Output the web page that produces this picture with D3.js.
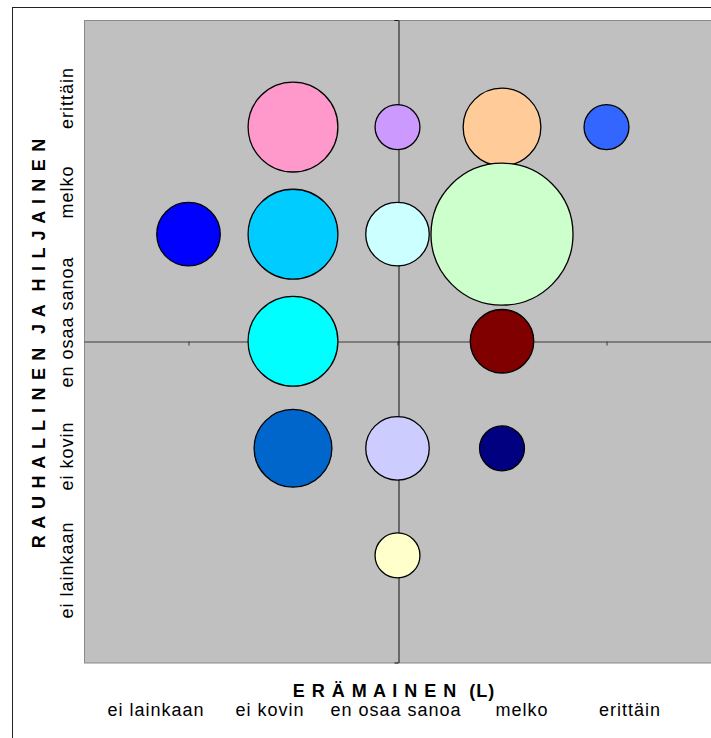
<!DOCTYPE html>
<html>
<head>
<meta charset="utf-8">
<script src="https://cdn.jsdelivr.net/npm/d3@7"></script>
<style>
  body { margin: 0; background: #fff; }
  text { font-family: Arial, "Liberation Sans", sans-serif; fill: #000; }
</style>
</head>
<body>
<svg width="711" height="738"></svg>
<script>
// answer levels (same scale on both axes)
var levels = ["ei lainkaan", "ei kovin", "en osaa sanoa", "melko", "erittäin"];

// bubbles: position on the 1..5 scales, size = count
var bubbleX = [1, 2, 2, 2, 2, 3, 3, 3, 3, 4, 4, 4, 4, 5];
var bubbleY = [4, 5, 4, 3, 2, 5, 4, 2, 1, 5, 4, 3, 2, 5];
var bubbleSize = [2, 4, 4, 4, 3, 1, 2, 2, 1, 3, 10, 2, 1, 1];
var bubbleColor = ["#0000FF", "#FF99CC", "#00CCFF", "#00FFFF", "#0066CC",
                   "#CC99FF", "#CCFFFF", "#CCCCFF", "#FFFFCC",
                   "#FFCC99", "#CCFFCC", "#800000", "#000080", "#3366FF"];

var xTitle = "E R Ä M A I N E N  (L)";
var yTitle = "R A U H A L L I N E N  J A  H I L J A I N E N";

var svg = d3.select("svg"),
    width = +svg.attr("width"),
    height = +svg.attr("height");

var plot = {left: 84, top: 20, right: 711, bottom: 662.5};

var x = d3.scaleLinear().domain([0, 6]).range([plot.left, plot.right]);
var y = d3.scaleLinear().domain([0, 6]).range([plot.bottom, plot.top]);
var r = d3.scaleSqrt().domain([0, d3.max(bubbleSize)]).range([0, 71]);

// chart frame (runs off the right / bottom edge like the original)
svg.append("rect")
    .attr("x", 12.5).attr("y", 7.5)
    .attr("width", 800).attr("height", 800)
    .attr("fill", "#fff")
    .attr("stroke", "#222");

// plot area
svg.append("rect")
    .attr("x", plot.left + 0.5).attr("y", plot.top + 0.5)
    .attr("width", 700).attr("height", plot.bottom - plot.top)
    .attr("fill", "#C0C0C0")
    .attr("stroke", "#8a8a8a");

// axes cross in the middle of the scales
var xAxis = svg.append("g")
    .attr("transform", "translate(0," + (Math.round(y(3)) + 0.5) + ")")
    .call(d3.axisBottom(x).tickValues([1, 3, 5]).tickSize(4).tickSizeOuter(0).tickFormat(""));
xAxis.selectAll("path, line").attr("stroke", "#3a3a3a");

var yAxis = svg.append("g")
    .attr("transform", "translate(" + (Math.round(x(3)) + 0.5) + ",0)")
    .call(d3.axisLeft(y).tickValues([0, 2, 4, 6]).tickSize(4).tickSizeOuter(0).tickFormat(""));
yAxis.selectAll("path, line").attr("stroke", "#111");

// bubbles
var bubbles = bubbleSize.map(function(s, i) {
    return {x: bubbleX[i], y: bubbleY[i], size: s, color: bubbleColor[i]};
});

svg.append("g")
    .selectAll("circle")
    .data(bubbles)
    .enter().append("circle")
    .attr("cx", function(d) { return x(d.x); })
    .attr("cy", function(d) { return y(d.y); })
    .attr("r", function(d) { return r(d.size); })
    .attr("fill", function(d) { return d.color; })
    .attr("stroke", "#000")
    .attr("stroke-width", 1.3);

// x axis title and level labels
svg.append("text")
    .attr("x", 394).attr("y", 697)
    .attr("text-anchor", "middle")
    .attr("font-size", 18).attr("font-weight", "bold")
    .attr("letter-spacing", "1px")
    .attr("xml:space", "preserve")
    .text(xTitle);

var xLabelPos = [156, 270, 396, 522, 630];
svg.append("g")
    .selectAll("text")
    .data(levels)
    .enter().append("text")
    .attr("x", function(d, i) { return xLabelPos[i]; })
    .attr("y", 716)
    .attr("text-anchor", "middle")
    .attr("font-size", 18)
    .attr("letter-spacing", "1px")
    .text(function(d) { return d; });

// y axis title and level labels (rotated)
svg.append("text")
    .attr("transform", "translate(45,343) rotate(-90)")
    .attr("text-anchor", "middle")
    .attr("font-size", 18).attr("font-weight", "bold")
    .attr("letter-spacing", "1.2px")
    .attr("xml:space", "preserve")
    .text(yTitle);

var yLabelPos = [570, 456, 322, 192, 98];
svg.append("g")
    .selectAll("text")
    .data(levels)
    .enter().append("text")
    .attr("transform", function(d, i) { return "translate(73," + yLabelPos[i] + ") rotate(-90)"; })
    .attr("text-anchor", "middle")
    .attr("font-size", 18)
    .attr("letter-spacing", "1px")
    .text(function(d) { return d; });
</script>
</body>
</html>
